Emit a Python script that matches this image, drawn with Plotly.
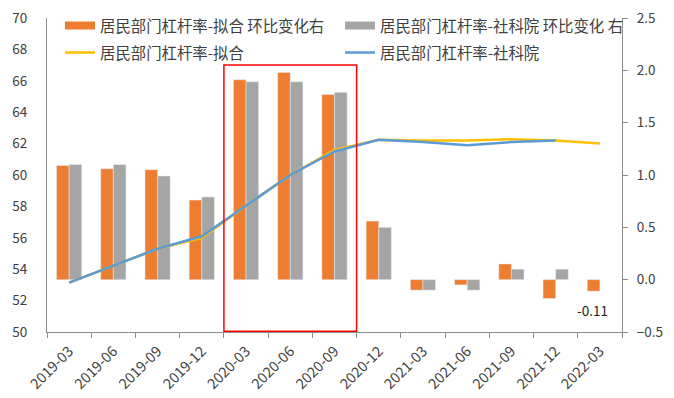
import plotly.graph_objects as go

categories = ["2019-03", "2019-06", "2019-09", "2019-12", "2020-03", "2020-06", "2020-09",
              "2020-12", "2021-03", "2021-06", "2021-09", "2021-12", "2022-03"]

fit_qoq = [1.09, 1.06, 1.05, 0.76, 1.91, 1.98, 1.77, 0.56, -0.10, -0.05, 0.15, -0.18, -0.11]
cass_qoq = [1.10, 1.10, 0.99, 0.79, 1.89, 1.89, 1.79, 0.50, -0.10, -0.10, 0.10, 0.10, None]
fit_level = [53.15, 54.25, 55.3, 56.0, 58.05, 60.0, 61.6, 62.25, 62.2, 62.2, 62.28, 62.2, 62.0]
cass_level = [53.15, 54.25, 55.3, 56.1, 58.05, 60.0, 61.5, 62.25, 62.1, 61.9, 62.1, 62.2, None]

names = ["居民部门杠杆率-拟合 环比变化右", "居民部门杠杆率-社科院 环比变化 右",
         "居民部门杠杆率-拟合", "居民部门杠杆率-社科院"]

ORANGE = "#ED7D31"
GRAY = "#A5A5A5"
YELLOW = "#FFC000"
BLUE = "#5B9BD5"
AXIS = "#8C8C8C"
TXT = "#404040"
FONT = "Noto Sans CJK SC"

fig = go.Figure()
fig.add_trace(go.Bar(x=categories, y=fit_qoq, name=names[0], marker_color=ORANGE,
                     yaxis="y", showlegend=False))
fig.add_trace(go.Bar(x=categories, y=cass_qoq, name=names[1], marker_color=GRAY,
                     yaxis="y", showlegend=False))
fig.add_trace(go.Scatter(x=categories, y=fit_level, name=names[2], mode="lines",
                         line=dict(color=YELLOW, width=2.5), yaxis="y2", legend="legend3"))
fig.add_trace(go.Scatter(x=categories, y=cass_level, name=names[3], mode="lines",
                         line=dict(color=BLUE, width=2.5), yaxis="y2", legend="legend4"))
# legend swatches for the bar series (wide rectangle like the original)
fig.add_trace(go.Scatter(x=[None], y=[None], name=names[0], mode="lines",
                         line=dict(color=ORANGE, width=8), yaxis="y2", legend="legend"))
fig.add_trace(go.Scatter(x=[None], y=[None], name=names[1], mode="lines",
                         line=dict(color=GRAY, width=8), yaxis="y2", legend="legend2"))

fig.add_annotation(x=categories[-1], y=fit_qoq[-1], xref="x", yref="y",
                   text=f"{fit_qoq[-1]:.2f}", showarrow=False, yshift=-19, xshift=-7,
                   font=dict(size=13.5, color="#222", family=FONT))

fig.add_shape(type="rect", xref="x", yref="y2", x0=3.5, x1=6.5, y0=50.05, y1=67,
              line=dict(color="#FF0000", width=1.5), fillcolor="rgba(0,0,0,0)")

# page renders with an 8px body margin; plot area targets x 47-622, y 18-332 on screen
W, H = 666, 390
ML, MR, MT, MB = 39, 52, 10, 66
PW, PH = W - ML - MR, H - MT - MB
OFF = 8

def px_x(x):
    return (x - OFF - ML) / PW

def px_y(y):
    return (H - MB - (y - OFF)) / PH

leg_common = dict(orientation="h", xanchor="left", yanchor="middle",
                  bgcolor="rgba(255,255,255,0)", itemwidth=30,
                  font=dict(size=15.4, family=FONT, color=TXT))

fig.update_layout(
    width=W, height=H,
    margin=dict(l=ML, r=MR, t=MT, b=MB, autoexpand=False),
    paper_bgcolor="white", plot_bgcolor="white",
    barmode="group", bargap=0.43, bargroupgap=0,
    font=dict(family=FONT, size=12, color=TXT),
    xaxis=dict(type="category", tickangle=-45, tickson="boundaries", ticks="outside",
               ticklen=5, tickcolor=AXIS, showline=True, linecolor=AXIS, linewidth=1,
               showgrid=False, automargin=False, ticklabeloverflow="allow",
               ticklabelstandoff=4,
               tickfont=dict(size=14.5, family=FONT, color=TXT)),
    yaxis=dict(side="right", range=[-0.5, 2.5], dtick=0.5, tickformat=".1f",
               showgrid=False, zeroline=False, showline=True, linecolor=AXIS,
               ticks="outside", ticklen=5, tickcolor=AXIS, automargin=False,
               ticklabeloverflow="allow", ticklabelstandoff=6,
               tickfont=dict(size=13.5, family=FONT, color=TXT)),
    yaxis2=dict(side="left", overlaying="y", range=[50, 70], dtick=2,
                showgrid=False, zeroline=False, showline=True, linecolor=AXIS,
                ticks="", automargin=False, ticklabeloverflow="allow",
                ticklabelstandoff=16,
                tickfont=dict(size=13.5, family=FONT, color=TXT)),
    legend=dict(x=px_x(60), y=px_y(26), **leg_common),
    legend2=dict(x=px_x(340), y=px_y(26), **leg_common),
    legend3=dict(x=px_x(60), y=px_y(53), **leg_common),
    legend4=dict(x=px_x(340), y=px_y(53), **leg_common),
    showlegend=True,
)

fig.write_html("out.html")
